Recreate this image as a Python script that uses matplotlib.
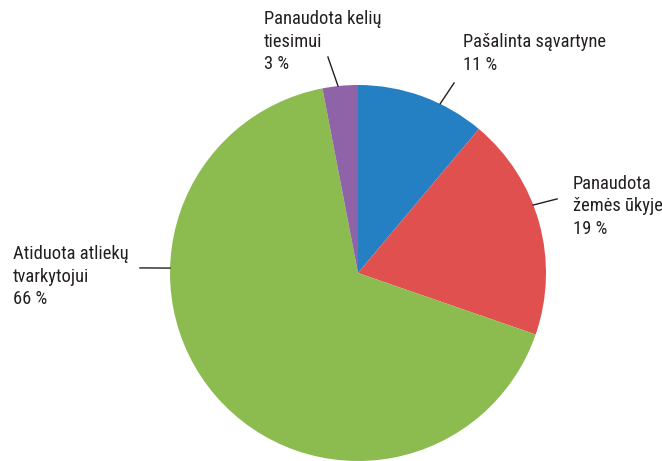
import numpy as np
from matplotlib import pyplot as plt

plt.rcParams['font.family'] = ['Roboto Condensed', 'Archivo Narrow', 'DejaVu Sans']

labels = ["Pašalinta sąvartyne", "Panaudota\nžemės ūkyje",
          "Atiduota atliekų\ntvarkytojui", "Panaudota kelių\ntiesimui"]
shares = [11, 19, 66, 3]
colors = ['#2580c3', '#e0504e', '#8cbb50', '#8e63a8']

# leader line: angle on the rim (deg), outer end point, label anchor (top-left)
leader_angle = [64.1, 21.2, 178.5, 96.1]
leader_end = [(0.511, 1.011), (1.059, 0.394), (-1.16, 0.027), (-0.160, 1.149)]
label_pos = [(0.559, 1.275), (1.144, 0.52), (-1.835, 0.147), (-0.50, 1.397)]

fig = plt.figure(figsize=(6.62, 4.61), dpi=100)
ax = fig.add_axes([0, 0, 1, 1])
ax.pie(shares, colors=colors, startangle=90, counterclock=False,
       radius=1.0, wedgeprops=dict(linewidth=0))

for lab, val, ang, end, pos in zip(labels, shares, leader_angle, leader_end, label_pos):
    a = np.radians(ang)
    ax.plot([np.cos(a), end[0]], [np.sin(a), end[1]], color='#231f20', lw=1.0)
    ax.text(pos[0], pos[1], f"{lab}\n{val} %", ha='left', va='top',
            fontsize=13.3, linespacing=1.3, color='#231f20')

ax.set_xlim(-358 / 188, (662 - 358) / 188)
ax.set_ylim(-(461 - 273) / 188, 273 / 188)
ax.set_aspect('equal')
ax.axis('off')

fig.savefig('out.png', dpi=100)
